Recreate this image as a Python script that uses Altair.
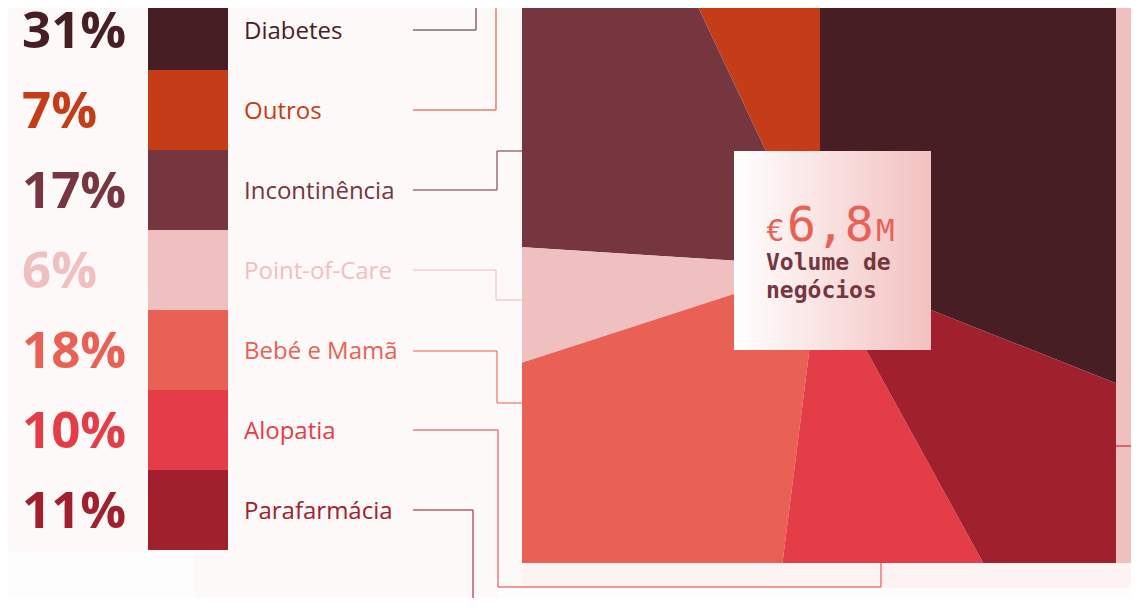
import math
import altair as alt
import pandas as pd

# ---------------- data ----------------
categories = ["Diabetes", "Outros", "Incontinência", "Point-of-Care",
              "Bebé e Mamã", "Alopatia", "Parafarmácia"]
shares = [31, 7, 17, 6, 18, 10, 11]
colors = ["#481e25", "#c43d18", "#763640", "#f0bfbf",
          "#e96155", "#e43d47", "#a0212d"]
# clockwise position of each slice, starting at 12 o'clock
pie_order = [0, 6, 5, 4, 3, 2, 1]

total_currency = "€"
total_amount = "6,8"
total_unit = "M"
total_caption = ["Volume de", "negócios"]

# ---------------- layout ----------------
W, H = 1123, 590
OFF = 8  # page margin


def P(v):
    return v - OFF


BG = "#fdf9f8"
LABEL_FONT = "Open Sans"
MONO = "DejaVu Sans Mono"

df = pd.DataFrame({
    "cat": categories,
    "share": shares,
    "order": pie_order,
    "pct": [f"{s}%" for s in shares],
})

color_scale = alt.Scale(domain=categories, range=colors)
y_scale = alt.Scale(domain=categories, range=[P(-10), P(550)],
                    paddingInner=0, paddingOuter=0)
one = alt.Data(values=[{"k": 0}])


def box(x1, x2, y1, y2, color):
    return alt.Chart(one).mark_rect(color=color).encode(
        x=alt.value(P(x1)), x2=alt.value(P(x2)),
        y=alt.value(P(y1)), y2=alt.value(P(y2)))


def seg(x1, y1, x2, y2, color, width=1.5):
    return alt.Chart(one).mark_rule(color=color, strokeWidth=width, opacity=0.85).encode(
        x=alt.value(P(x1)), x2=alt.value(P(x2)),
        y=alt.value(P(y1)), y2=alt.value(P(y2)))


layers = []

# pie (drawn first, then cropped by the panels around it)
pie = alt.Chart(df).mark_arc(radius=480).encode(
    theta=alt.Theta("share:Q", stack=True,
                    scale=alt.Scale(domain=[0, 100], range=[0, 2 * math.pi])),
    order=alt.Order("order:Q"),
    color=alt.Color("cat:N", scale=color_scale, legend=None),
    x=alt.value(P(820)), y=alt.value(P(266)),
)
layers.append(pie)

# cover panels
layers.append(box(0, 522, 0, 620, BG))
layers.append(box(0, 195, 552, 620, "#fefdfd"))
layers.append(box(522, 1140, 563, 588, "#fdf3f2"))
layers.append(box(498, 1140, 588, 620, "#fefdfd"))
layers.append(box(1116, 1140, 0, 563, "#f0bfbf"))
layers.append(seg(1116, 446, 1140, 446, "#d9505a", 2))

# legend color blocks
blocks = alt.Chart(df).mark_rect().encode(
    y=alt.Y("cat:N", sort=categories, scale=y_scale, axis=None),
    x=alt.value(P(148)), x2=alt.value(P(228)),
    color=alt.Color("cat:N", scale=color_scale, legend=None),
)
layers.append(blocks)

pct_text = alt.Chart(df).mark_text(
    align="left", baseline="middle", font=LABEL_FONT, fontWeight="bold",
    fontSize=51, dy=3
).encode(
    y=alt.Y("cat:N", sort=categories, scale=y_scale, axis=None),
    x=alt.value(P(22)),
    text="pct:N",
    color=alt.Color("cat:N", scale=color_scale, legend=None),
)
layers.append(pct_text)

name_text = alt.Chart(df).mark_text(
    align="left", baseline="middle", font=LABEL_FONT, fontSize=24, dy=2
).encode(
    y=alt.Y("cat:N", sort=categories, scale=y_scale, axis=None),
    x=alt.value(P(244)),
    text="cat:N",
    color=alt.Color("cat:N", scale=color_scale, legend=None),
)
layers.append(name_text)

# connector lines (decorative layout)
connectors = [
    ("#7a4a50", [(413, 30), (476, 30), (476, -20)]),
    ("#df6a4a", [(413, 110), (496, 110), (496, -20)]),
    ("#8a5560", [(413, 190), (497, 190), (497, 151), (522, 151)]),
    ("#f0c4c4", [(413, 270), (496, 270), (496, 300), (522, 300)]),
    ("#ee7a70", [(413, 351), (497, 351), (497, 403), (522, 403)]),
    ("#e8606a", [(413, 430), (498, 430), (498, 587), (881, 587), (881, 563)]),
    ("#b04050", [(413, 510), (473, 510), (473, 630)]),
]
for col, pts in connectors:
    for (xa, ya), (xb, yb) in zip(pts[:-1], pts[1:]):
        layers.append(seg(xa, ya, xb, yb, col))

# centre card
grad = {
    "gradient": "linear",
    "x1": 0, "x2": 1, "y1": 0, "y2": 0,
    "stops": [{"offset": 0, "color": "#ffffff"}, {"offset": 1, "color": "#f2c1bf"}],
}
card = alt.Chart(one).mark_rect(fill=grad).encode(
    x=alt.value(P(734)), x2=alt.value(P(931)),
    y=alt.value(P(151)), y2=alt.value(P(350)))
layers.append(card)

card_data = alt.Data(values=[{
    "cur": total_currency, "amt": total_amount, "unit": total_unit,
    "l1": total_caption[0], "l2": total_caption[1]}])


def card_text(field, x, y, size, color, weight="normal"):
    return alt.Chart(card_data).mark_text(
        align="left", baseline="alphabetic", font=MONO, fontSize=size,
        fontWeight=weight, color=color
    ).encode(x=alt.value(P(x)), y=alt.value(P(y)), text=f"{field}:N")


layers.append(card_text("cur", 766, 241, 31, "#e96155"))
layers.append(card_text("amt", 787, 241, 48, "#e96155"))
layers.append(card_text("unit", 876, 241, 31, "#e96155"))
layers.append(card_text("l1", 766, 270, 23, "#763640", "bold"))
layers.append(card_text("l2", 766, 298, 23, "#763640", "bold"))

chart = alt.layer(*layers, data=df).properties(
    width=W, height=H, padding=0,
    autosize=alt.AutoSizeParams(type="none"),
    background=BG,
).configure_view(strokeWidth=0)

chart.save("out.html", embed_options={"renderer": "svg", "actions": False})
